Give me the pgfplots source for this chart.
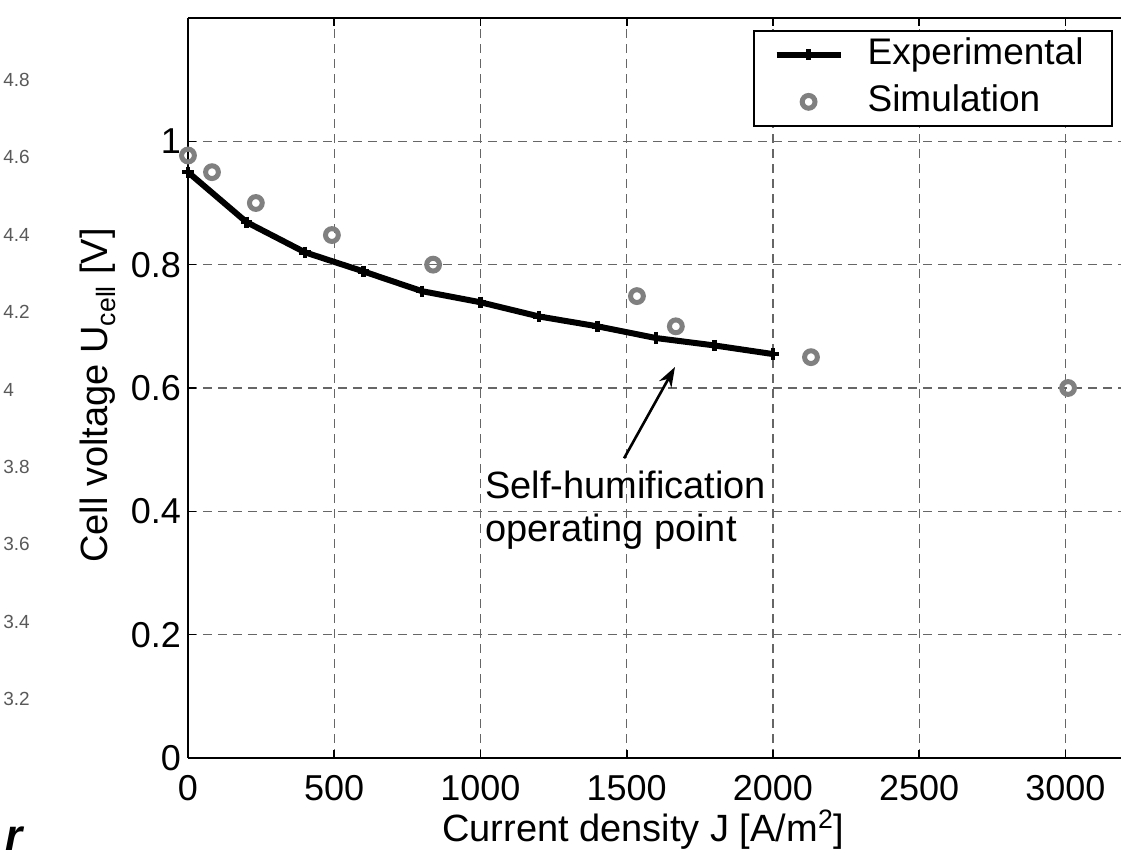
\documentclass[border=0pt]{standalone}
\usepackage{pgfplots}
\pgfplotsset{compat=1.18}
\usetikzlibrary{arrows.meta}
\usepackage{fontspec}
\setmainfont{Liberation Sans}
\definecolor{simgray}{RGB}{128,128,128}
\begin{document}
\begin{tikzpicture}
\begin{axis}[
  at={(0,0)}, anchor=south west,
  scale only axis,
  width=466.5pt, height=370pt,
  xmin=0, xmax=3190, ymin=0, ymax=1.2,
  axis x line*=box, axis y line*=left,
  xtick={0,500,1000,1500,2000,2500,3000},
  ytick={0,0.2,0.4,0.6,0.8,1},
  grid=major,
  grid style={dash pattern=on 4.5pt off 3pt, black!60, line width=0.6pt},
  tick align=inside,
  major tick length=4pt,
  tick style={black, line width=0.8pt},
  axis line style={black, line width=1pt},
  ticklabel style={font=\fontsize{18}{20}\selectfont},
  /pgf/number format/assume math mode=true,
  /pgf/number format/1000 sep={},
  xticklabel style={yshift=-5pt},
  xlabel={Current density J [A/m\textsuperscript{2}]},
  ylabel={Cell voltage U\textsubscript{cell} [V]},
  every axis x label/.style={at={(axis description cs:0.488,-0.097)}, anchor=center},
  every axis y label/.style={at={(axis description cs:-0.0965,0.49)}, anchor=center, rotate=90},
  label style={font=\fontsize{19}{21}\selectfont},
  legend style={at={(rel axis cs:0.991,0.984)}, anchor=north east,
    font=\fontsize{18.5}{20}\selectfont, draw=black, line width=1pt,
    inner xsep=10pt, inner ysep=3.25pt, row sep=6pt, column sep=12pt,
    nodes={inner sep=0pt, text height=13.5pt, text depth=4pt, text width=112pt, align=left},
    cells={anchor=west}},
  legend image code/.code={\draw[mark repeat=2,mark phase=2,#1] plot coordinates {(0pt,0pt) (16pt,0pt) (32pt,0pt)};},
  clip=false,
]
\addplot[black, line width=3pt, mark=+, mark size=2.8pt, mark options={line width=2.2pt}]
  coordinates {(0,0.950) (200,0.869) (400,0.820) (600,0.789) (800,0.757) (1000,0.739)
               (1200,0.716) (1400,0.700) (1600,0.681) (1800,0.669) (2000,0.655)};
\addlegendentry{Experimental}
\addplot[only marks, simgray, mark=o, mark size=3.2pt, mark options={line width=2.5pt}]
  coordinates {(0,0.977) (82,0.950) (232,0.900) (492,0.848) (838,0.800)
               (1535,0.749) (1668,0.700) (2130,0.650) (3009,0.600)};
\addlegendentry{Simulation}
\draw[-{Stealth[length=10pt,width=7pt]}, line width=1.3pt] (axis cs:1491,0.486) -- (axis cs:1665,0.634);
\node[anchor=west, align=left, inner sep=0pt, font=\fontsize{19}{21.5}\selectfont] at (axis cs:1015,0.402) {Self-humification\\operating point};
\end{axis}
\foreach \v/\y in {4.8/339, 4.6/300.5, 4.4/261.5, 4.2/223, 4/184, 3.8/145.5, 3.6/107, 3.4/68, 3.2/29.5}
  \node[anchor=west, inner sep=0pt, text=black!65, font=\fontsize{9.5}{10}\selectfont] at (-92.5pt,\y pt) {\v};
\node[anchor=base west, inner sep=0pt, font=\fontsize{22}{22}\selectfont\bfseries\itshape] at (-91.5pt,-46.5pt) {r};
\pgfresetboundingbox
\path[use as bounding box] (-94pt,-48.5pt) rectangle (466.5pt,379pt);
\end{tikzpicture}
\end{document}
